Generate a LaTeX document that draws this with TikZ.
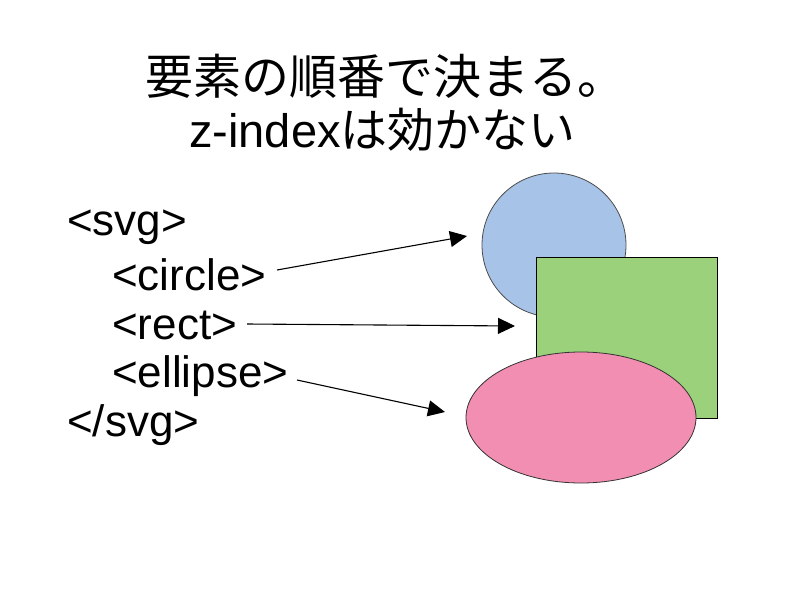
\documentclass[tikz,border=0pt]{standalone}
\usepackage{fontspec}
\setmainfont{Liberation Sans}
\newfontfamily\cjk{Noto Sans CJK JP}
\usetikzlibrary{arrows.meta}
\definecolor{cblue}{HTML}{A7C4E8}
\definecolor{cgreen}{HTML}{9AD17A}
\definecolor{cpink}{HTML}{F28EB1}
\tikzset{
  code/.style={anchor=west, inner sep=0pt, font=\fontsize{44}{50}\selectfont},
  ttl/.style={inner sep=0pt, font=\fontsize{47}{54}\selectfont},
  arr/.style={-{Triangle[length=17pt,width=16pt]}, line width=1.1pt, color=black},
}
\begin{document}
\begin{tikzpicture}[x=1pt,y=-1pt]
\useasboundingbox (0,0) rectangle (800,600);
\node[ttl, font=\fontsize{48}{54}\selectfont] (t1) at (385,76) {\cjk 要素の順番で決まる。};
\node[ttl, anchor=west] (t2) at (189,130) {z-index{\cjk は効かない}};
\node[code] (s1) at (67,227) {<svg>};
\node[code] (s2) at (112,275) {<circle>};
\node[code] (s3) at (112,325) {<rect>};
\node[code] (s4) at (112,376) {<ellipse>};
\node[code] (s5) at (67,425) {</svg>};
\node[circle, draw=black!70, fill=cblue, minimum size=144pt, inner sep=0pt, line width=0.8pt] (c) at (554,245) {};
\node[rectangle, draw=black, fill=cgreen, minimum width=181pt, minimum height=161pt, inner sep=0pt, line width=0.8pt] (r) at (626.5,337.5) {};
\path[draw=black!80, fill=cpink, line width=0.8pt] (581,417.5) ellipse [x radius=115pt, y radius=65.5pt];
\node[inner sep=0pt, minimum width=230pt, minimum height=131pt] (e) at (581,417.5) {};
\coordinate (a1s) at (277,270);
\coordinate (a1e) at (467,236);
\coordinate (a2s) at (247,324);
\coordinate (a2e) at (515,326);
\coordinate (a3s) at (297,380);
\coordinate (a3e) at (445,412);
\draw[arr] (a1s) -- (a1e);
\draw[arr] (a2s) -- (a2e);
\draw[arr] (a3s) -- (a3e);
\end{tikzpicture}
\end{document}
